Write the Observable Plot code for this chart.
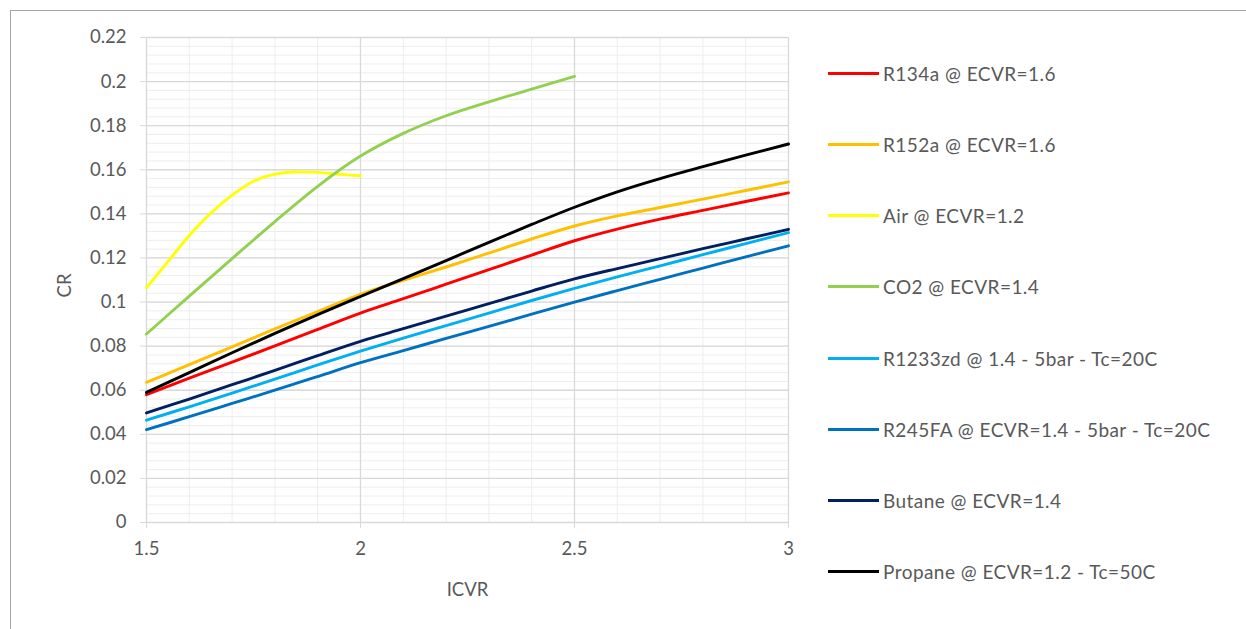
<!DOCTYPE html>
<html>
<head>
<meta charset="utf-8">
<script src="https://cdn.jsdelivr.net/npm/d3@7"></script>
<script src="https://cdn.jsdelivr.net/npm/@observablehq/plot@0.6"></script>
<style>
  html, body { margin: 0; padding: 0; background: #fff; }
  body { width: 1246px; height: 629px; position: relative; overflow: hidden;
         font-family: Lato, "Open Sans", sans-serif; color: #595959; }
  #frame { position: absolute; left: 10px; top: 10px; width: 1260px; height: 640px;
           border-left: 1.5px solid #a6a6a6; border-top: 1.5px solid #a6a6a6; }
  #chart { position: absolute; left: 0; top: 0; }
  #legend { position: absolute; left: 828px; top: 0; }
  .item { position: absolute; left: 0; display: flex; align-items: center; white-space: nowrap; }
  .swatch { width: 51px; height: 3px; margin-right: 4px; }
  .label { font-size: 19px; letter-spacing: 0.45px; color: #595959; }
</style>
</head>
<body>
<div id="frame"></div>
<div id="chart"></div>
<div id="legend"></div>
<script>
// ICVR sample points shared by most series
const icvr = [1.5, 1.6, 1.7, 1.8, 1.9, 2.0, 2.1, 2.2, 2.3, 2.4, 2.5, 2.6, 2.7, 2.8, 2.9, 3.0];

const r134a   = [0.058, 0.0655, 0.0727, 0.0801, 0.0876, 0.095, 0.1015, 0.1081, 0.1147, 0.1213, 0.1278, 0.1331, 0.1376, 0.1416, 0.1456, 0.1495];
const r152a   = [0.0636, 0.0716, 0.0797, 0.0878, 0.0957, 0.1035, 0.1098, 0.1159, 0.1222, 0.1286, 0.1345, 0.1391, 0.1429, 0.1467, 0.1506, 0.1545];
const r1233zd = [0.0464, 0.0525, 0.0587, 0.065, 0.0715, 0.0777, 0.0836, 0.0893, 0.095, 0.1007, 0.1062, 0.1114, 0.1164, 0.1215, 0.1265, 0.1315];
const r245fa  = [0.0421, 0.048, 0.054, 0.060, 0.0662, 0.0725, 0.078, 0.0835, 0.089, 0.0945, 0.1000, 0.1052, 0.1103, 0.1154, 0.1205, 0.1255];
const butane  = [0.0497, 0.056, 0.0625, 0.069, 0.0757, 0.0822, 0.0879, 0.0936, 0.0993, 0.105, 0.1105, 0.1152, 0.1197, 0.1242, 0.1286, 0.133];
const propane = [0.059, 0.068, 0.077, 0.0858, 0.0943, 0.1025, 0.1106, 0.1188, 0.1271, 0.1352, 0.1430, 0.1500, 0.1560, 0.1614, 0.1666, 0.1717];

// CO2 runs from 1.5 to 2.5
const icvrCO2 = [1.5, 1.6, 1.7, 1.8, 1.9, 2.0, 2.1, 2.2, 2.3, 2.4, 2.5];
const co2     = [0.0855, 0.1027, 0.1197, 0.1365, 0.1525, 0.1662, 0.1765, 0.1845, 0.1908, 0.1966, 0.2024];

// Air runs from 1.5 to 2.0
const icvrAir = [1.5, 1.55, 1.6, 1.65, 1.7, 1.75, 1.8, 1.85, 1.9, 1.95, 2.0];
const air     = [0.1065, 0.1183, 0.1302, 0.1403, 0.1485, 0.1548, 0.158, 0.159, 0.1588, 0.158, 0.1573];

const seriesNames = [
  "R134a @ ECVR=1.6",
  "R152a @ ECVR=1.6",
  "Air @ ECVR=1.2",
  "CO2 @ ECVR=1.4",
  "R1233zd @ 1.4 - 5bar - Tc=20C",
  "R245FA @ ECVR=1.4 - 5bar - Tc=20C",
  "Butane @ ECVR=1.4",
  "Propane @ ECVR=1.2 - Tc=50C"
];
const seriesColors = ["#ff0000", "#ffc000", "#ffff00", "#92d050", "#00b0f0", "#0070c0", "#002060", "#000000"];
const seriesX = [icvr, icvr, icvrAir, icvrCO2, icvr, icvr, icvr, icvr];
const seriesY = [r134a, r152a, air, co2, r1233zd, r245fa, butane, propane];

const xTicks = [1.5, 2, 2.5, 3];
const yTicks = [0, 0.02, 0.04, 0.06, 0.08, 0.1, 0.12, 0.14, 0.16, 0.18, 0.2, 0.22];
const xMinor = [1.6, 1.7, 1.8, 1.9, 2.1, 2.2, 2.3, 2.4, 2.6, 2.7, 2.8, 2.9, 3.0];
const yMinor = d3.range(0, 0.2201, 0.004).map(v => +v.toFixed(3));

// long-format table for the line marks
const rows = seriesNames.flatMap((name, i) =>
  seriesX[i].map((x, j) => ({series: name, icvr: x, cr: seriesY[i][j]})));

const font = "Lato, 'Open Sans', sans-serif";

const plot = Plot.plot({
  width: 1246,
  height: 629,
  marginLeft: 146,
  marginRight: 458,
  marginTop: 37,
  marginBottom: 107,
  style: {fontFamily: font, fontSize: "18.5px", color: "#595959", background: "transparent"},
  x: {domain: [1.5, 3]},
  y: {domain: [0, 0.22]},
  color: {domain: seriesNames, range: seriesColors},
  marks: [
    Plot.ruleY(yMinor, {stroke: "#ededed", strokeWidth: 1}),
    Plot.ruleX(xMinor, {stroke: "#ededed", strokeWidth: 1}),
    Plot.ruleY(yTicks, {stroke: "#d9d9d9", strokeWidth: 1.3}),
    Plot.ruleX(xTicks, {stroke: "#d9d9d9", strokeWidth: 1.3}),
    Plot.axisX(xTicks, {tickSize: 6, tickPadding: 13, stroke: "#d9d9d9", fill: "#595959",
      tickFormat: d => String(d), label: null}),
    Plot.axisY(yTicks, {tickSize: 6, tickPadding: 14, stroke: "#d9d9d9", fill: "#595959",
      tickFormat: d => String(d), label: null}),
    Plot.text(["ICVR"], {x: 2.25, frameAnchor: "bottom", dy: 73, fill: "#595959", fontSize: 18.5, text: d => d}),
    Plot.text(["CR"], {x: 1.5, y: 0.1075, dx: -81, rotate: -90, fill: "#595959", fontSize: 18.5, text: d => d}),
    Plot.line(rows, {x: "icvr", y: "cr", z: "series", stroke: "series", strokeWidth: 2.9, curve: "catmull-rom"})
  ]
});
document.getElementById("chart").appendChild(plot);

// legend entries on the right
const legend = document.getElementById("legend");
seriesNames.forEach((name, i) => {
  const item = document.createElement("div");
  item.className = "item";
  item.style.top = (73.3 + i * 71.2 - 12) + "px";
  item.style.height = "24px";
  const sw = document.createElement("div");
  sw.className = "swatch";
  sw.style.background = seriesColors[i];
  const lb = document.createElement("span");
  lb.className = "label";
  lb.textContent = name;
  item.appendChild(sw);
  item.appendChild(lb);
  legend.appendChild(item);
});
</script>
</body>
</html>
